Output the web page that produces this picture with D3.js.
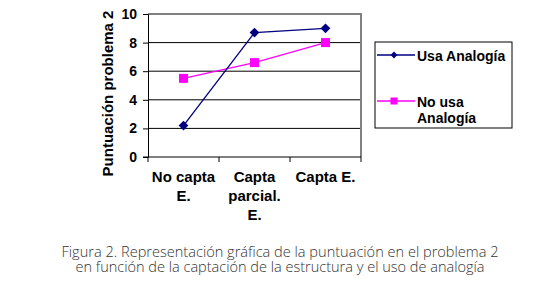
<!DOCTYPE html>
<html>
<head>
<meta charset="utf-8">
<script src="https://cdn.jsdelivr.net/npm/d3@7"></script>
<style>
  body { margin: 0; background: #fff; }
  svg text.chart { font-family: "Liberation Sans", Arial, sans-serif; font-weight: bold; }
  svg text.caption { font-family: "Open Sans", "Noto Sans", sans-serif; font-weight: 350; }
</style>
</head>
<body>
<div id="chart"></div>
<script>
// categories and series
const categories = [["No capta", "E."], ["Capta", "parcial.", "E."], ["Capta E."]];
const usaAnalogia = [2.2, 8.7, 9.0];
const noUsaAnalogia = [5.5, 6.6, 8.0];
const yTicks = [0, 2, 4, 6, 8, 10];
const seriesNames = [["Usa Analogía"], ["No usa", "Analogía"]];
const captionLines = [
  "Figura 2. Representación gráfica de la puntuación en el problema 2",
  "en función de la captación de la estructura y el uso de analogía"
];
const captionWidths = [437, 409];

const width = 534, height = 288;
const plot = { left: 148, top: 14, right: 361, bottom: 157 };

const svg = d3.select("#chart").append("svg")
    .attr("width", width)
    .attr("height", height);

const x = d3.scaleBand()
    .domain(d3.range(categories.length))
    .range([plot.left, plot.right]);

const y = d3.scaleLinear()
    .domain([0, 10])
    .range([plot.bottom, plot.top]);

// grid lines
svg.append("g").selectAll("line")
    .data(yTicks.filter(d => d > 0 && d < 10))
    .enter().append("line")
    .attr("x1", plot.left).attr("x2", plot.right)
    .attr("y1", d => y(d)).attr("y2", d => y(d))
    .attr("stroke", "#000").attr("stroke-width", 1);

// plot border (grey top/right)
svg.append("path")
    .attr("d", `M${plot.left},${y(10)}H${plot.right}V${plot.bottom}`)
    .attr("fill", "none")
    .attr("stroke", "#808080")
    .attr("stroke-width", 2);

// y axis
const yAxis = svg.append("g")
    .attr("transform", `translate(${plot.left},0)`)
    .call(d3.axisLeft(y).tickValues(yTicks).tickSize(5).tickPadding(6));
yAxis.select(".domain").attr("stroke", "#000");
yAxis.selectAll("text")
    .attr("class", "chart")
    .attr("font-size", 14).attr("fill", "#000");

// x axis
const xAxis = svg.append("g")
    .attr("transform", `translate(0,${plot.bottom})`);
xAxis.append("line")
    .attr("x1", plot.left - 5).attr("x2", plot.right)
    .attr("y1", 0).attr("y2", 0)
    .attr("stroke", "#000");
xAxis.selectAll("line.tick")
    .data(d3.range(categories.length + 1))
    .enter().append("line")
    .attr("class", "tick")
    .attr("x1", i => plot.left + i * x.step())
    .attr("x2", i => plot.left + i * x.step())
    .attr("y1", 0).attr("y2", 5)
    .attr("stroke", "#000");
xAxis.selectAll("text.cat")
    .data(categories)
    .enter().append("text")
    .attr("class", "chart")
    .attr("x", (d, i) => x(i) + x.bandwidth() / 2)
    .attr("y", 25)
    .attr("text-anchor", "middle")
    .attr("font-size", 15)
    .selectAll("tspan")
    .data(d => d)
    .enter().append("tspan")
    .attr("x", function() { return this.parentNode.getAttribute("x"); })
    .attr("dy", (d, i) => i === 0 ? 0 : 19)
    .text(d => d);

// y label
svg.append("text")
    .attr("class", "chart")
    .attr("transform", `translate(113,${(plot.top + plot.bottom) / 2 + 8}) rotate(-90)`)
    .attr("text-anchor", "middle")
    .attr("font-size", 15)
    .text("Puntuación problema 2");

const line = d3.line()
    .x((d, i) => x(i) + x.bandwidth() / 2)
    .y(d => y(d));

// No usa Analogía
svg.append("path")
    .datum(noUsaAnalogia)
    .attr("d", line)
    .attr("fill", "none")
    .attr("stroke", "#ff00ff")
    .attr("stroke-width", 1.3);
svg.selectAll("rect.sq")
    .data(noUsaAnalogia)
    .enter().append("rect")
    .attr("class", "sq")
    .attr("x", (d, i) => x(i) + x.bandwidth() / 2 - 4.5)
    .attr("y", d => y(d) - 4.5)
    .attr("width", 9).attr("height", 9)
    .attr("fill", "#ff00ff");

// Usa Analogía
svg.append("path")
    .datum(usaAnalogia)
    .attr("d", line)
    .attr("fill", "none")
    .attr("stroke", "#000080")
    .attr("stroke-width", 1.3);
svg.selectAll("path.dm")
    .data(usaAnalogia)
    .enter().append("path")
    .attr("class", "dm")
    .attr("d", d3.symbol(d3.symbolDiamond2, 60))
    .attr("transform", (d, i) => `translate(${x(i) + x.bandwidth() / 2},${y(d)})`)
    .attr("fill", "#000080");

// legend
const legend = svg.append("g").attr("transform", "translate(375,42)");
legend.append("rect")
    .attr("width", 137).attr("height", 86)
    .attr("fill", "#fff").attr("stroke", "#000");
const lg = [
  { color: "#000080", sym: "dm", y: 13, name: seriesNames[0] },
  { color: "#ff00ff", sym: "sq", y: 59, name: seriesNames[1] }
];
lg.forEach(s => {
  legend.append("line")
    .attr("x1", 2).attr("x2", 40)
    .attr("y1", s.y).attr("y2", s.y)
    .attr("stroke", s.color).attr("stroke-width", 1.3);
  if (s.sym === "dm") {
    legend.append("path")
      .attr("d", d3.symbol(d3.symbolDiamond2, 30))
      .attr("transform", `translate(19,${s.y})`)
      .attr("fill", s.color);
  } else {
    legend.append("rect")
      .attr("x", 15.5).attr("y", s.y - 3.5)
      .attr("width", 7).attr("height", 7)
      .attr("fill", s.color);
  }
  const t = legend.append("text")
    .attr("class", "chart")
    .attr("x", 42).attr("y", s.y + 6)
    .attr("font-size", 14);
  s.name.forEach((n, i) => {
    t.append("tspan").attr("x", 42).attr("dy", i === 0 ? 0 : 16).text(n);
  });
});

// caption, squeezed to the widths seen in the figure
svg.append("g").selectAll("text")
    .data(captionLines)
    .enter().append("text")
    .attr("class", "caption")
    .attr("x", 280)
    .attr("y", (d, i) => 257 + i * 15)
    .attr("text-anchor", "middle")
    .attr("font-size", 14)
    .attr("fill", "#333")
    .attr("textLength", (d, i) => captionWidths[i])
    .attr("lengthAdjust", "spacingAndGlyphs")
    .text(d => d);
</script>
</body>
</html>
